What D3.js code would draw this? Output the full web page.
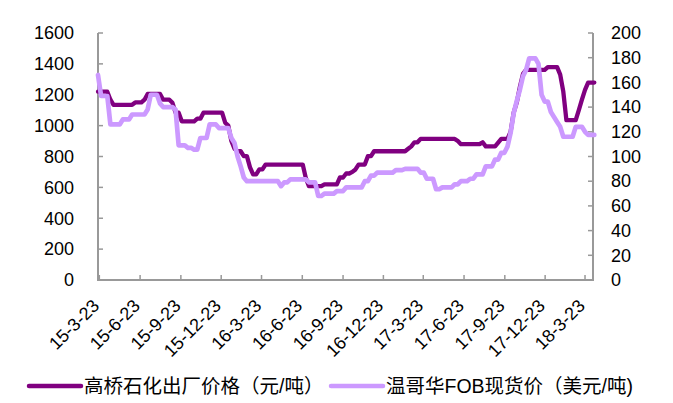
<!DOCTYPE html>
<html><head><meta charset="utf-8">
<script src="https://cdn.jsdelivr.net/npm/d3@7/dist/d3.min.js"></script>
<style>body{margin:0;background:#fff}svg{display:block}</style>
</head><body>
<svg id="chart" width="673" height="403"></svg>
<script>
// ---- data ----
const firstWeek = "2015-03-20";           // weekly observations start
const gaoqiao = [ // 高桥石化出厂价格 (元/吨), left axis
  1220,1220,1220,1220,1168,1135,1135,1135,1135,1135,
  1135,1135,1150,1150,1150,1168,1205,1205,1205,1205,
  1205,1168,1168,1168,1148,1084,1084,1028,1028,1028,
  1028,1028,1045,1045,1084,1084,1084,1084,1084,1084,
  1084,1019,1000,900,850,834,834,802,802,730,
  684,684,716,716,748,748,748,748,748,748,
  748,748,748,748,748,748,748,660,608,608,
  608,608,608,619,619,619,619,619,664,664,
  690,690,700,716,748,748,748,802,802,834,
  834,834,834,834,834,834,834,834,834,834,
  850,866,892,892,914,914,914,914,914,914,
  914,914,914,914,914,914,900,880,880,880,
  880,880,880,880,892,866,866,866,866,890,
  914,914,914,960,1084,1150,1250,1335,1361,1361,
  1361,1361,1361,1361,1361,1379,1379,1379,1379,1330,
  1220,1035,1035,1035,1035,1100,1168,1232,1279,1279,
  1279
];
const vancouver = [ // 温哥华FOB现货价 (美元/吨), right axis
  166,149,149,149,126,126,126,126,130,130,
  130,134,134,134,134,134,138,150,150,150,
  143,140,140,140,140,138,109,109,109,107,
  107,105.5,105.5,115,115,115,126,126,126,123,
  123,123,123,115,111,100,92,83,80,80,
  80,80,80,80,80,80,80,80,80,76,
  79,79,81.5,81.5,81.5,81.5,81.5,81.5,79,79,
  79,68,68,70,70,70,70,72,72,72,
  75,75,75,75,75,75,80,80,84.5,84.5,
  87,87,87,87,87,87,89,89,89,90,
  90,90,90,90,87,87,82,82,82,73.5,
  73.5,75,75,75,75,77.5,77.5,80,80,80,
  82,82,85.5,85.5,85.5,92,92,92,97.5,97.5,
  103,103,108,119,135,145,154,165,170,179.5,
  179.5,179.5,175,150,144.5,144.5,136,132,128,124,
  116,116,116,116,124,124,124,120,117.5,117.5,
  117.5
];
const xTickLabels = ["15-3-23","15-6-23","15-9-23","15-12-23","16-3-23","16-6-23","16-9-23",
                     "16-12-23","17-3-23","17-6-23","17-9-23","17-12-23","18-3-23"];
const leftTicks = [0,200,400,600,800,1000,1200,1400,1600];
const rightTicks = [0,20,40,60,80,100,120,140,160,180,200];
const seriesNames = ["高桥石化出厂价格（元/吨）","温哥华FOB现货价（美元/吨)"];
const xDomain = ["2015-03-20","2018-04-10"];

// ---- drawing ----
const colors = ["#800080","#CC99FF"];
const axisColor = "#999999";
const font = "'Liberation Sans', Arial, 'Noto Sans CJK SC', sans-serif";
const svg = d3.select("#chart");
const parseISO = d3.timeParse("%Y-%m-%d");
const parseLbl = d3.timeParse("%y-%m-%d");
const start = parseISO(firstWeek);
const dates = gaoqiao.map((_, i) => d3.timeDay.offset(start, 7 * i));

const L = 98, R = 593, T = 33, B = 280;
const x = d3.scaleTime().domain(xDomain.map(parseISO)).range([L, R]);
const yL = d3.scaleLinear().domain([0, 1600]).range([B, T]);
const yR = d3.scaleLinear().domain([0, 200]).range([B, T]);

// axes
const leftAxis = d3.axisLeft(yL).tickValues(leftTicks).tickFormat(d3.format("d")).tickSize(0).tickPadding(24);
const gl = svg.append("g").attr("transform", `translate(${L},0)`).call(leftAxis);
const rightAxis = d3.axisRight(yR).tickValues(rightTicks).tickFormat(d3.format("d")).tickSize(0).tickPadding(18);
const gr = svg.append("g").attr("transform", `translate(${R},0)`).call(rightAxis);
const tickDates = xTickLabels.map(parseLbl);
const bottomAxis = d3.axisBottom(x).tickValues(tickDates).tickSize(0).tickFormat(() => "");
const gb = svg.append("g").attr("transform", `translate(0,${B})`).call(bottomAxis);
[gl, gr, gb].forEach(g => {
  g.select(".domain").remove();
  g.selectAll("text").attr("font-family", font).attr("font-size", 18).attr("fill", "#000");
});

// inward tick marks
svg.append("g").selectAll("line").data(leftTicks).join("line")
  .attr("x1", L).attr("x2", L + 5).attr("y1", d => yL(d)).attr("y2", d => yL(d))
  .attr("stroke", axisColor).attr("stroke-width", 1.5);
svg.append("g").selectAll("line").data(rightTicks).join("line")
  .attr("x1", R - 5).attr("x2", R).attr("y1", d => yR(d)).attr("y2", d => yR(d))
  .attr("stroke", axisColor).attr("stroke-width", 1.5);
svg.append("g").selectAll("line").data(tickDates).join("line")
  .attr("x1", d => x(d)).attr("x2", d => x(d)).attr("y1", B).attr("y2", B - 5)
  .attr("stroke", axisColor).attr("stroke-width", 1.5);

// axis lines
svg.append("line").attr("x1", L).attr("x2", L).attr("y1", T).attr("y2", B + 1)
  .attr("stroke", axisColor).attr("stroke-width", 2);
svg.append("line").attr("x1", R).attr("x2", R).attr("y1", T).attr("y2", B + 1)
  .attr("stroke", axisColor).attr("stroke-width", 2);
svg.append("line").attr("x1", L).attr("x2", R).attr("y1", B).attr("y2", B)
  .attr("stroke", axisColor).attr("stroke-width", 2);

// rotated x labels
svg.append("g").selectAll("text").data(tickDates).join("text")
  .attr("transform", d => `translate(${x(d) + 1},${B + 27}) rotate(-45)`)
  .attr("text-anchor", "end")
  .attr("font-family", font).attr("font-size", 18).attr("fill", "#000")
  .text((d, i) => xTickLabels[i]);

// lines
const lineL = d3.line().x((d, i) => x(dates[i])).y(d => yL(d));
const lineR = d3.line().x((d, i) => x(dates[i])).y(d => yR(d));
svg.append("path").datum(gaoqiao).attr("d", lineL).attr("fill", "none")
  .attr("stroke", colors[0]).attr("stroke-width", 4.3).attr("stroke-linejoin", "round").attr("stroke-linecap", "round");
svg.append("path").datum(vancouver).attr("d", lineR).attr("fill", "none")
  .attr("stroke", colors[1]).attr("stroke-width", 4.7).attr("stroke-linejoin", "round").attr("stroke-linecap", "round");

// legend
const legendItems = [{x: 29, name: seriesNames[0], c: colors[0]}, {x: 331, name: seriesNames[1], c: colors[1]}];
const lg = svg.append("g");
legendItems.forEach(it => {
  lg.append("line").attr("x1", it.x).attr("x2", it.x + 52).attr("y1", 386).attr("y2", 386)
    .attr("stroke", it.c).attr("stroke-width", 4.5).attr("stroke-linecap", "round");
  lg.append("text").attr("x", it.x + 55).attr("y", 386).attr("dy", "0.36em")
    .attr("font-family", font).attr("font-size", 19.5).attr("fill", "#000").text(it.name);
});
</script>
</body></html>
